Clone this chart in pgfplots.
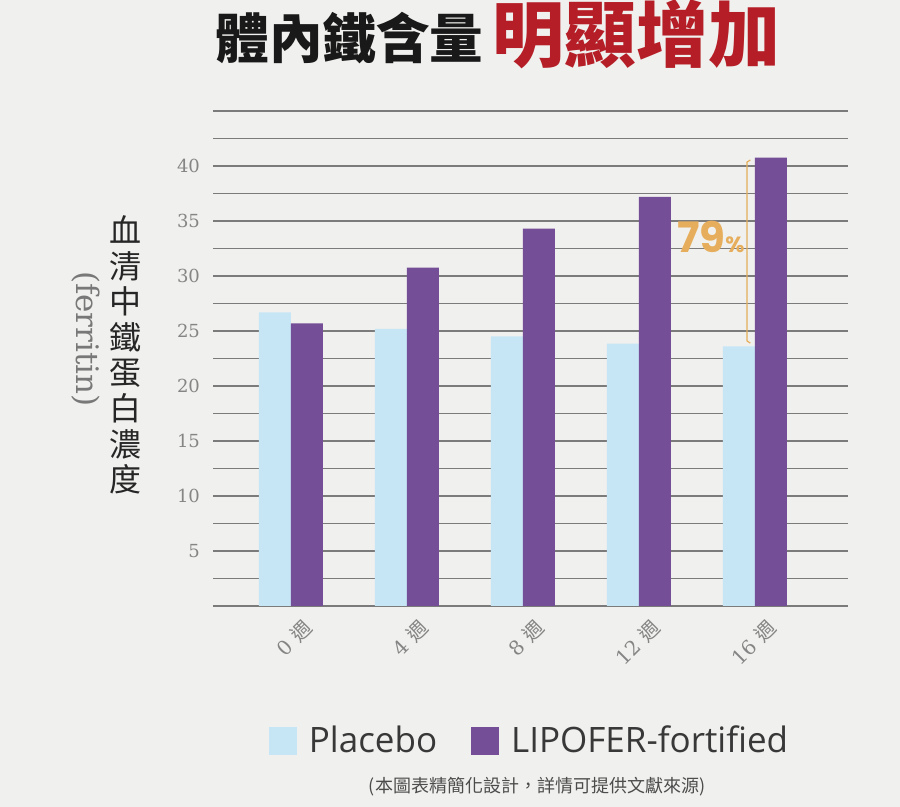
\documentclass[border=0pt]{standalone}
\usepackage{fontspec}
\usepackage{pgfplots}
\pgfplotsset{compat=1.18}
\setmainfont{DejaVu Serif}
\newfontfamily\cjk{Noto Sans CJK TC}
\newfontfamily\legfont{Open Sans}
\newfontfamily\pctfont{Poppins}
\definecolor{bgc}{HTML}{F0F0EE}
\definecolor{placebo}{HTML}{C6E6F6}
\definecolor{lipo}{HTML}{744E97}
\definecolor{gridc}{HTML}{7B7B7B}
\definecolor{tickc}{HTML}{858585}
\definecolor{titlered}{HTML}{B51E26}
\definecolor{pct}{HTML}{E6AE5C}
\definecolor{legtext}{HTML}{383838}
\begin{document}
\begin{tikzpicture}[x=0.5pt,y=0.5pt]
\fill[bgc] (0,0) rectangle (900,807);
% title
\node[anchor=base west, inner sep=0pt, font=\cjk\bfseries\fontsize{26.8}{28}\selectfont, text=black!90] at (215,748) {體內鐵含量};
\node[anchor=base west, inner sep=0pt, font=\cjk\bfseries\fontsize{36}{38}\selectfont, text=titlered] at (492,745) {明顯增加};
% y label
\node[align=center, inner sep=0pt, font=\cjk\fontsize{16}{17.8}\selectfont, text=black!85] at (125,452) {血\\清\\中\\鐵\\蛋\\白\\濃\\度};
\node[rotate=-90, inner sep=0pt, font=\fontsize{15.5}{17}\selectfont, text=tickc!90!black] at (86,468) {(ferritin)};
% footnote
\node[inner sep=0pt, font=\cjk\fontsize{9}{10}\selectfont, text=black!70] at (537,20) {(本圖表精簡化設計，詳情可提供文獻來源)};
\begin{axis}[
  at={(106.5pt,100.5pt)}, anchor=south west,
  scale only axis, width=317.5pt, height=247.5pt,
  xmin=-0.672, xmax=4.802, ymin=0, ymax=45,
  axis line style={draw=none}, major tick length=0pt, minor tick length=0pt,
  ytick={0,2.5,...,45},
  yticklabels={,,5,,10,,15,,20,,25,,30,,35,,40,,},
  ymajorgrids, grid style={gridc, line width=0.75pt},
  yticklabel style={font=\fontsize{9}{10}\selectfont, text=tickc, xshift=-3pt},
  xtick={0,1,2,3,4},
  xticklabels={{0 {\cjk 週}},{4 {\cjk 週}},{8 {\cjk 週}},{12 {\cjk 週}},{16 {\cjk 週}}},
  xticklabel style={font=\fontsize{10}{11}\selectfont, text=tickc, rotate=45, anchor=east, xshift=3pt, yshift=-12.5pt},
  /pgf/number format/assume math mode=true,
  ybar, bar width=0.276,
  legend style={at={(0.5,-0.2727)}, anchor=center, draw=none, fill=none,
    font=\legfont\fontsize{17.5}{20}\selectfont, text=legtext,
    /tikz/every odd column/.append style={column sep=4pt},
    /tikz/every even column/.append style={column sep=15pt}},
  legend columns=2,
  legend image code/.code={\fill[#1] (0pt,-7pt) rectangle (14pt,7pt);},
  clip=false,
]
\addplot[fill=placebo, draw=none, bar shift=-0.138] coordinates {(0,26.7) (1,25.2) (2,24.5) (3,23.85) (4,23.6)};
\addlegendentry{Placebo}
\addplot[fill=lipo, draw=none, bar shift=0.138] coordinates {(0,25.7) (1,30.75) (2,34.3) (3,37.2) (4,40.75)};
\addlegendentry{LIPOFER-fortified}
\draw[pct, line width=0.6pt] (axis cs:3.96,40.55) -- (axis cs:3.931,40.35) -- (axis cs:3.931,24.1) -- (axis cs:3.96,23.9);
\node[anchor=base east, inner sep=0pt, text=pct, font=\pctfont\bfseries\fontsize{21}{22}\selectfont] at (axis cs:3.914,32.1) {79{\fontsize{11}{12}\selectfont\%}};
\end{axis}
\end{tikzpicture}
\end{document}
